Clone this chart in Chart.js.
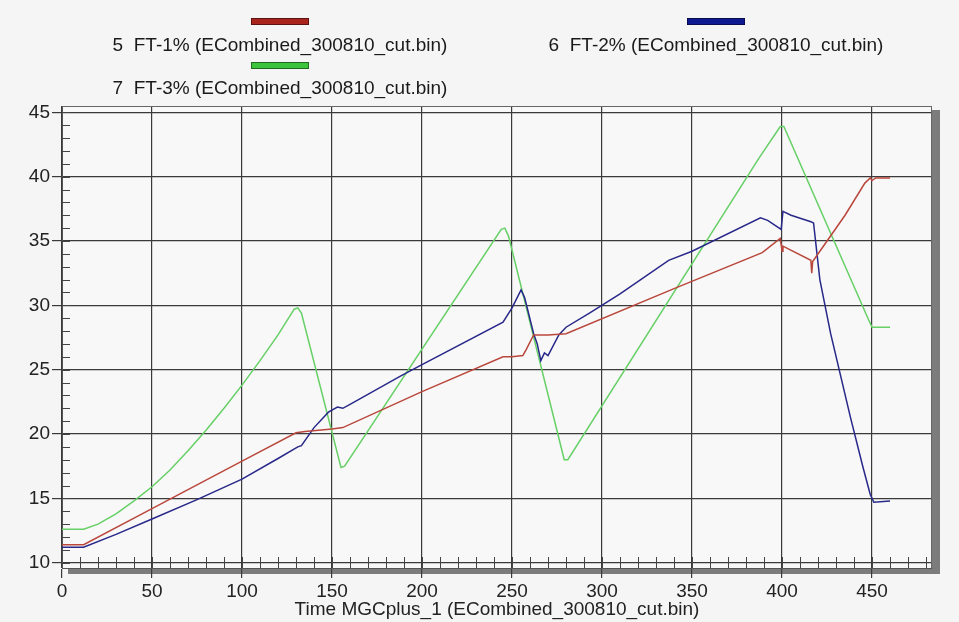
<!DOCTYPE html>
<html>
<head>
<meta charset="utf-8">
<script src="https://cdn.jsdelivr.net/npm/chart.js@4.4.1/dist/chart.umd.min.js"></script>
<style>
  html, body { margin: 0; padding: 0; background: #f5f5f5; }
  #wrap { width: 959px; height: 622px; }
</style>
</head>
<body>
<div id="wrap"><canvas id="chart" width="959" height="622"></canvas></div>
<script>
// series names
const seriesNames = [
  '5  FT-1% (ECombined_300810_cut.bin)',
  '6  FT-2% (ECombined_300810_cut.bin)',
  '7  FT-3% (ECombined_300810_cut.bin)'
];
const xTitle = 'Time MGCplus_1 (ECombined_300810_cut.bin)';

// tick labels
const xTicks = [0, 50, 100, 150, 200, 250, 300, 350, 400, 450];
const yTicks = [10, 15, 20, 25, 30, 35, 40, 45];

// FT-1% (red)
const tRed = [0, 12, 50, 100, 130, 135, 150, 156, 200, 245, 250, 256, 258, 262, 270, 280, 340, 389, 399, 400, 400.5, 416, 416.5, 417, 425, 435, 446, 449, 450, 452, 460];
const vRed = [11.4, 11.4, 14.2, 17.9, 20.1, 20.2, 20.4, 20.5, 23.3, 26.0, 26.0, 26.1, 26.6, 27.7, 27.7, 27.8, 31.3, 34.1, 35.2, 34.2, 34.6, 33.5, 32.5, 33.4, 35.0, 37.0, 39.5, 39.9, 39.7, 39.9, 39.9];

// FT-2% (blue)
const tBlue = [0, 12, 30, 50, 75, 100, 120, 131, 133, 140, 148, 153, 156, 160, 188, 200, 245, 250, 255, 257, 262, 264, 266, 268, 270, 276, 280, 293, 310, 337, 350, 388, 392, 399.5, 400.5, 405, 416, 417.5, 421, 427, 438, 445, 449, 451, 460];
const vBlue = [11.2, 11.2, 12.2, 13.4, 14.9, 16.5, 18.1, 19.0, 19.1, 20.5, 21.7, 22.1, 22.0, 22.3, 24.5, 25.4, 28.7, 29.8, 31.2, 30.6, 27.8, 27.0, 25.7, 26.3, 26.1, 27.7, 28.3, 29.4, 30.9, 33.5, 34.2, 36.8, 36.6, 35.9, 37.3, 37.0, 36.5, 36.4, 32.0, 27.8, 21.3, 17.4, 15.3, 14.7, 14.8];

// FT-3% (green)
const tGreen = [0, 12, 20, 30, 40, 50, 60, 70, 80, 90, 100, 110, 120, 129, 131, 133, 155, 157, 244, 246, 248, 279, 281, 387, 399, 401, 448, 450, 460];
const vGreen = [12.6, 12.6, 13.0, 13.8, 14.8, 15.9, 17.2, 18.7, 20.3, 22.0, 23.8, 25.7, 27.7, 29.7, 29.8, 29.4, 17.4, 17.5, 35.9, 36.0, 35.4, 18.0, 18.0, 41.4, 43.9, 43.9, 28.9, 28.3, 28.3];

const colors = ['#b9473c', '#28288a', '#66d066'];
const legendColors = ['#a8241c', '#0e1890', '#3cc43c'];

const FONT = "'Liberation Sans', Arial, sans-serif";

function pts(t, v) { return t.map((x, i) => ({ x: x, y: v[i] })); }

const framePlugin = {
  id: 'frame',
  beforeDraw(chart) {
    const { ctx, chartArea: a } = chart;
    ctx.save();
    ctx.fillStyle = '#f5f5f5';
    ctx.fillRect(0, 0, chart.width, chart.height);
    // drop shadow right and bottom
    ctx.fillStyle = '#7c7c7c';
    ctx.fillRect(a.right, a.top + 4, 8, a.bottom - a.top + 2);
    ctx.fillRect(a.left + 6, a.bottom, a.right - a.left + 2, 6);
    ctx.fillStyle = '#f8f8f8';
    ctx.fillRect(a.left, a.top, a.right - a.left, a.bottom - a.top);
    ctx.restore();
  },
  afterDraw(chart) {
    const { ctx, chartArea: a, scales } = chart;
    ctx.save();
    // top and right frame
    ctx.strokeStyle = '#666';
    ctx.lineWidth = 1;
    ctx.beginPath();
    ctx.moveTo(a.left, a.top + 0.5);
    ctx.lineTo(a.right, a.top + 0.5);
    ctx.moveTo(a.right - 0.5, a.top);
    ctx.lineTo(a.right - 0.5, a.bottom);
    ctx.stroke();
    // minor ticks
    ctx.strokeStyle = '#444';
    ctx.beginPath();
    for (let v = 10; v <= 45; v++) {
      const y = Math.round(scales.y.getPixelForValue(v)) + 0.5;
      ctx.moveTo(a.left, y);
      ctx.lineTo(a.left + 8, y);
    }
    for (let t = 10; t <= 480; t += 10) {
      const x = Math.round(scales.x.getPixelForValue(t)) + 0.5;
      ctx.moveTo(x, a.bottom);
      ctx.lineTo(x, a.bottom - 11);
    }
    ctx.stroke();

    // legend
    const items = [
      { cx: 280, by: 18, ty: 46 },
      { cx: 716, by: 18, ty: 46 },
      { cx: 280, by: 62, ty: 89 }
    ];
    items.forEach((it, i) => {
      ctx.fillStyle = legendColors[i];
      ctx.fillRect(it.cx - 29, it.by, 58, 7);
      ctx.strokeStyle = 'rgba(0,0,0,0.45)';
      ctx.strokeRect(it.cx - 29 + 0.5, it.by + 0.5, 57, 6);
      ctx.fillStyle = '#1a1a1a';
      ctx.font = '19px ' + FONT;
      ctx.textAlign = 'center';
      ctx.textBaseline = 'middle';
      ctx.fillText(seriesNames[i], it.cx, it.ty);
    });
    ctx.restore();
  }
};

new Chart(document.getElementById('chart'), {
  type: 'line',
  data: {
    datasets: [
      { label: seriesNames[0], data: pts(tRed, vRed), borderColor: colors[0] },
      { label: seriesNames[1], data: pts(tBlue, vBlue), borderColor: colors[1] },
      { label: seriesNames[2], data: pts(tGreen, vGreen), borderColor: colors[2] }
    ]
  },
  options: {
    responsive: false,
    animation: false,
    layout: { padding: { top: 106, right: 27, left: 0, bottom: 0 } },
    elements: {
      point: { radius: 0 },
      line: { borderWidth: 1.5, tension: 0 }
    },
    plugins: {
      legend: { display: false },
      tooltip: { enabled: false }
    },
    scales: {
      x: {
        type: 'linear',
        min: 0,
        max: 483.3,
        afterBuildTicks: s => { s.ticks = xTicks.map(v => ({ value: v })); },
        afterFit: s => { s.height = 54; },
        grid: { color: '#3a3a3a', lineWidth: 1.2, tickLength: 10 },
        border: { color: '#555', width: 1 },
        ticks: { color: '#222', font: { family: FONT, size: 19 }, padding: 2, maxRotation: 0 },
        title: {
          display: true,
          text: xTitle,
          color: '#222',
          font: { family: FONT, size: 19 },
          padding: { top: 0, bottom: 1 }
        }
      },
      y: {
        min: 9.59,
        max: 45.49,
        afterBuildTicks: s => { s.ticks = yTicks.map(v => ({ value: v })); },
        afterFit: s => { s.width = 62; },
        grid: { color: '#3a3a3a', lineWidth: 1.2, tickLength: 10 },
        border: { color: '#555', width: 1 },
        ticks: { color: '#222', font: { family: FONT, size: 19 }, padding: 2 }
      }
    }
  },
  plugins: [framePlugin]
});
</script>
</body>
</html>
